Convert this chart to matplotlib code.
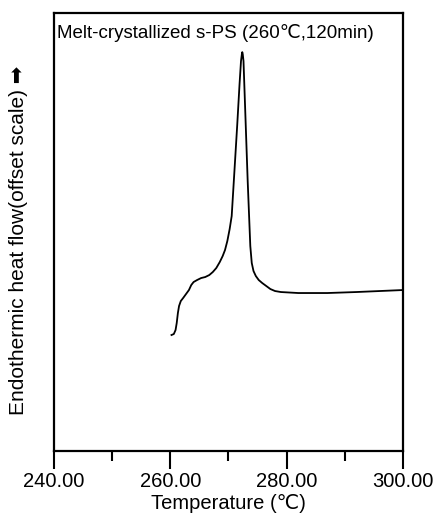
import numpy as np
import matplotlib.pyplot as plt

plt.rcParams['font.family'] = ['Liberation Sans', 'DejaVu Sans']

# DSC 곡선 (눈으로 읽은 값, 임의 단위)
temp = [260.2, 260.6, 260.9, 261.1, 261.3, 261.5, 261.8, 262.2, 262.7, 263.2,
        263.6, 264.0, 264.6, 265.3, 266.0, 266.7, 267.3, 267.9, 268.5, 269.0,
        269.4, 269.8, 270.2, 270.55, 271.0, 271.5, 271.9, 272.15, 272.3, 272.37,
        272.45, 272.58, 273.0, 273.3, 273.57, 273.75, 274.0, 274.3, 274.7, 275.2,
        275.8, 276.5, 277.2, 278.0, 279.0, 282.0, 287.0, 292.0, 296.0, 300.0]
heat = [116, 117, 121, 128, 138, 145, 150, 153, 157, 161,
        166, 169, 171, 173, 174, 176, 179, 183, 189, 195,
        201, 210, 222, 235, 278, 326, 367, 390, 397, 399,
        397, 390, 320, 270, 231, 205, 188, 180, 175, 171,
        168, 165, 162, 160, 159, 158, 158, 159, 160, 161]

x_ticks = [240, 260, 280, 300]
x_minor = [250, 270, 290]

fig = plt.figure(figsize=(4.4, 5.25), dpi=100)
ax = fig.add_axes([0.1227, 0.141, 0.7932, 0.834])

ax.plot(temp, heat, color='black', lw=1.3)

ax.set_xlim(240, 300)
ax.set_ylim(0, 438)
ax.set_xticks(x_ticks)
ax.set_xticklabels([f"{t:.2f}" for t in x_ticks], fontsize=14.5)
ax.set_xticks(x_minor, minor=True)
ax.tick_params(axis='x', which='major', direction='out', length=13, width=1.5, pad=2)
ax.tick_params(axis='x', which='minor', direction='out', length=7, width=1.5)
ax.set_yticks([])
for s in ax.spines.values():
    s.set_linewidth(1.6)

# x축 제목은 눈금 라벨과 겹치지 않도록 직접 배치
fig.text(0.5 * (0.1227 + 0.916), 0.030, "Temperature (℃)", fontsize=14.5,
         ha='center', va='baseline')
ax.set_ylabel("Endothermic heat flow(offset scale) ➡", fontsize=15)
ax.yaxis.set_label_coords(-0.075, 0.48)

ax.text(0.009, 0.943, "Melt-crystallized s-PS (260℃,120min)", transform=ax.transAxes,
        fontsize=13.5, va='baseline', ha='left')

fig.savefig('out.png', dpi=100)
